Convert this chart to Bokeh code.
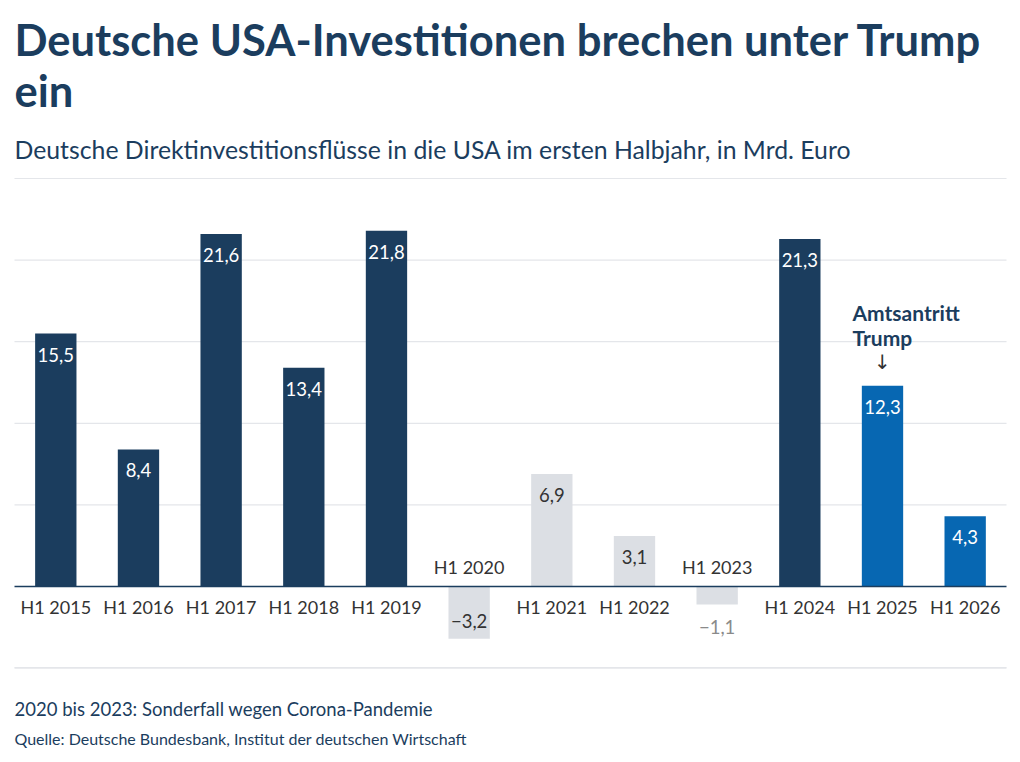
from bokeh.plotting import figure
from bokeh.models import Range1d, ColumnDataSource
from bokeh.core.properties import value
from bokeh.embed import file_html
from bokeh.resources import INLINE

# ---- data ----
categories = ["H1 2015", "H1 2016", "H1 2017", "H1 2018", "H1 2019", "H1 2020",
              "H1 2021", "H1 2022", "H1 2023", "H1 2024", "H1 2025", "H1 2026"]
values = [15.5, 8.4, 21.6, 13.4, 21.8, -3.2, 6.9, 3.1, -1.1, 21.3, 12.3, 4.3]
groups = ["normal", "normal", "normal", "normal", "normal", "corona",
          "corona", "corona", "corona", "normal", "trump", "trump"]
grid_values = [-5, 5, 10, 15, 20, 25]

title_lines = ["Deutsche USA-Investitionen brechen unter Trump", "ein"]
subtitle = "Deutsche Direktinvestitionsflüsse in die USA im ersten Halbjahr, in Mrd. Euro"
note = "2020 bis 2023: Sonderfall wegen Corona-Pandemie"
source = "Quelle: Deutsche Bundesbank, Institut der deutschen Wirtschaft"
annotation_lines = ["Amtsantritt", "Trump"]
annotation_category = "H1 2025"

# ---- styles ----
NAVY = "#1b3d5e"
BLUE = "#0767b2"
GRAY = "#dcdfe4"
GRID = "#e4e6ea"
TEXT = "#333333"
FONT = "Lato"
bar_colors = {"normal": NAVY, "corona": GRAY, "trump": BLUE}

W, H = 1010, 756
ORIGIN = 0          # page offset of the canvas as rendered
PX_X = 82.67        # pixels per category
PX_Y = 16.32        # pixels per unit
ZERO_PAGE = 586.0
FIRST_PAGE = 55.3

def X(page_x):
    return (page_x - FIRST_PAGE) / PX_X

def Y(page_y):
    return (ZERO_PAGE - page_y) / PX_Y

p = figure(width=W, height=H, output_backend="svg", toolbar_location=None,
           x_range=Range1d(X(ORIGIN), X(ORIGIN + W)), y_range=Range1d(Y(ORIGIN + H), Y(ORIGIN)),
           min_border=0, outline_line_color=None)
p.axis.visible = False
p.grid.visible = False
p.background_fill_color = "white"
p.border_fill_color = "white"

idx = list(range(len(categories)))

# gridlines
p.segment(x0=[X(14)] * len(grid_values), x1=[X(1006)] * len(grid_values),
          y0=grid_values, y1=grid_values, line_color=GRID, line_width=1.2)

# bars
src = ColumnDataSource(dict(x=idx, top=values, color=[bar_colors[g] for g in groups]))
p.vbar(x="x", top="top", bottom=0, width=0.5, fill_color="color", line_color=None, source=src)

# baseline
p.segment(x0=[X(14)], x1=[X(1006)], y0=[0], y1=[0], line_color=NAVY, line_width=1.6)

# value labels
def fmt(v):
    return f"{v:.1f}".replace(".", ",").replace("-", "\u2212")

lx, ly, ltxt, lcol, loff = [], [], [], [], []
for i, (v, g) in enumerate(zip(values, groups)):
    lx.append(i)
    ly.append(v)
    ltxt.append(fmt(v))
    inside = abs(v) > 2
    if g == "corona":
        lcol.append(TEXT if inside else "#8a8a8a")
    else:
        lcol.append("white")
    if v >= 0:
        loff.append(21 if inside else -14)
    else:
        loff.append(-18 if inside else 23)
p.text(x=lx, y=ly, text=ltxt, y_offset=loff, text_color=lcol,
       text_align="center", text_baseline="middle",
       text_font=value(FONT), text_font_size="18.5px")

# category labels
cy_off = [20 if v >= 0 else -20 for v in values]
p.text(x=idx, y=[0] * len(idx), text=categories, y_offset=cy_off,
       text_align="center", text_baseline="middle", text_color=TEXT,
       text_font=value(FONT), text_font_size="18px")

# annotation
ai = categories.index(annotation_category)
p.text(x=[ai, ai], y=[Y(312), Y(337)], text=annotation_lines, x_offset=-30,
       text_align="left", text_baseline="middle", text_color=NAVY,
       text_font=value(FONT), text_font_style="bold", text_font_size="21px")
p.text(x=[ai], y=[Y(361)], text=["\u2193"], text_align="center", text_baseline="middle",
       text_color=TEXT, text_font=value("DejaVu Sans"), text_font_size="20px")

# titles
p.text(x=[X(14), X(14)], y=[Y(38), Y(89)], text=title_lines,
       text_align="left", text_baseline="middle", text_color=NAVY,
       text_font=value(FONT), text_font_style="bold", text_font_size="43.5px")
p.text(x=[X(14)], y=[Y(149)], text=[subtitle],
       text_align="left", text_baseline="middle", text_color=NAVY,
       text_font=value(FONT), text_font_size="24.8px")

# footer
p.segment(x0=[X(14)], x1=[X(1006)], y0=[Y(667)], y1=[Y(667)], line_color=GRID, line_width=1.2)
p.text(x=[X(14)], y=[Y(708)], text=[note], text_align="left", text_baseline="middle",
       text_color=NAVY, text_font=value(FONT), text_font_size="18.5px")
p.text(x=[X(14)], y=[Y(738)], text=[source], text_align="left", text_baseline="middle",
       text_color=NAVY, text_font=value(FONT), text_font_size="16px")

open("out.html", "w").write(file_html(p, INLINE))
